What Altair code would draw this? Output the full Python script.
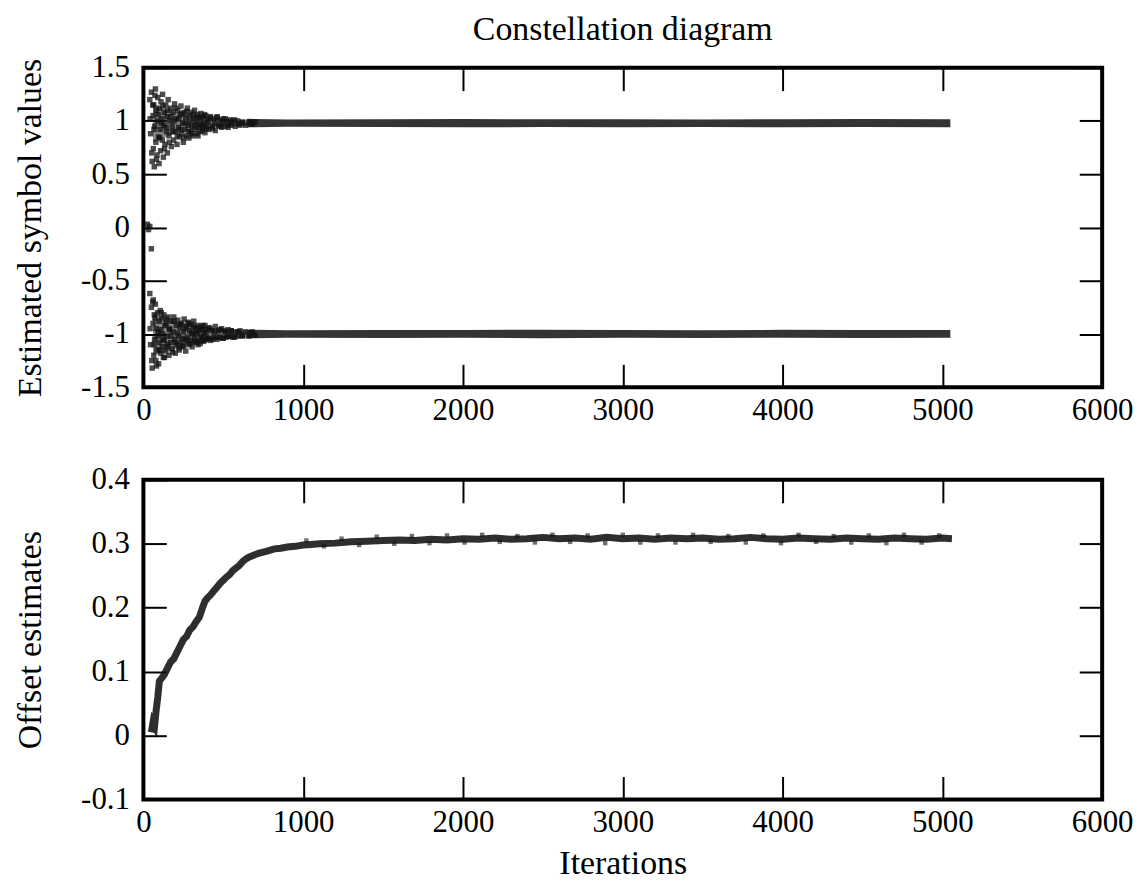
import altair as alt
import pandas as pd

# ---------------- data ----------------
TRANS_X = [40, 45, 50, 55, 60, 62, 65, 68, 70, 75, 78, 80, 85, 88, 90, 95, 98, 100, 105, 108,
           110, 115, 118, 120, 125, 128, 130, 135, 140, 145, 148, 150, 155, 160, 165, 170, 175, 180, 185, 190,
           195, 200, 205, 210, 215, 220, 225, 230, 235, 240, 245, 250, 255, 260, 265, 270, 275, 280, 285, 290,
           295, 300, 305, 310, 315, 320, 325, 330, 335, 340, 345, 350, 355, 360, 365, 370, 375, 380, 385, 390,
           395, 400, 410, 420, 430, 440, 450, 460, 470, 480, 490, 500, 510, 520, 530, 540, 550, 560, 575, 590,
           605, 620, 640, 660, 680, 700]
UPPER_TRANS = [1.20, 0.88, 1.27, 0.62, 1.05, 0.74, 1.15, 0.57, 0.95, 1.30, 0.80, 1.10, 0.68, 1.00, 1.22, 0.85, 0.60, 1.12, 0.92, 0.72,
               1.18, 1.02, 0.82, 1.25, 0.66, 0.96, 1.08, 0.78, 1.15, 0.90, 1.04, 0.70, 1.20, 0.86, 1.00, 1.12, 0.76, 0.95, 1.08, 0.82,
               1.16, 0.90, 1.02, 0.78, 1.10, 0.94, 0.85, 1.06, 1.14, 0.88, 0.98, 0.80, 1.08, 0.92, 1.03, 0.86, 1.12, 0.96, 0.84, 1.05,
               0.90, 1.08, 0.95, 0.86, 1.02, 1.10, 0.92, 0.99, 0.88, 1.06, 0.94, 1.03, 0.90, 1.07, 0.96, 0.91, 1.04, 0.98, 0.89, 1.05,
               0.93, 1.01, 0.92, 1.04, 0.95, 1.02, 0.91, 1.03, 0.96, 1.01, 0.94, 1.02, 0.95, 1.00, 0.94, 1.01, 0.96, 1.00, 0.95, 1.00,
               0.96, 0.99, 0.96, 0.99, 0.97, 0.99]
LOWER_TRANS = [-0.62, -1.10, -0.75, -1.32, -0.90, -0.68, -1.20, -0.82, -1.05, -0.72, -1.25, -0.95, -1.15, -0.80, -1.02, -1.28, -0.88, -1.08, -0.78, -1.18,
               -0.96, -0.85, -1.12, -1.00, -1.22, -0.82, -1.06, -0.92, -1.16, -0.86, -1.02, -1.10, -0.84, -1.20, -0.96, -1.08, -0.88, -1.14, -0.98, -0.84,
               -1.05, -1.18, -0.92, -1.10, -0.87, -1.02, -1.15, -0.94, -1.08, -0.90, -1.12, -0.98, -0.86, -1.05, -1.16, -0.93, -1.03, -0.89, -1.10, -0.97,
               -1.06, -0.91, -1.12, -0.99, -0.88, -1.04, -0.94, -1.08, -1.00, -0.92, -1.06, -0.97, -1.09, -0.93, -1.03, -0.95, -1.07, -0.99, -0.92, -1.05,
               -0.96, -1.04, -0.94, -1.06, -0.97, -1.03, -0.93, -1.05, -0.97, -1.03, -0.95, -1.04, -0.97, -1.03, -0.96, -1.02, -0.97, -1.03, -0.98, -1.02,
               -0.97, -1.02, -0.98, -1.02, -0.98, -1.01]
TRANS_X2 = [42, 52, 58, 66, 72, 82, 92, 102, 112, 122, 132, 142, 152, 162, 172, 182, 192, 202, 212, 222,
            232, 242, 252, 262, 272, 282, 292, 302, 312, 322, 332, 342, 352, 362, 372, 382, 392, 405, 418, 432,
            446, 462, 478, 495, 512, 530, 550, 570, 595, 620]
UPPER_TRANS2 = [1.02, 0.70, 1.15, 0.92, 1.24, 0.64, 1.06, 0.84, 0.98, 1.14, 0.74, 0.94, 1.10, 0.80, 1.04, 0.90, 1.00, 1.12, 0.86, 1.02,
                0.92, 1.07, 0.84, 0.98, 1.09, 0.90, 1.00, 0.88, 1.06, 0.96, 1.04, 0.86, 0.97, 1.02, 0.94, 1.06, 0.95, 0.99, 1.03, 0.93,
                0.98, 1.04, 0.95, 0.99, 1.02, 0.96, 0.98, 1.01, 0.97, 0.98]
LOWER_TRANS2 = [-0.95, -1.25, -0.70, -1.10, -0.85, -1.30, -0.98, -1.15, -0.80, -1.05, -1.22, -0.90, -1.12, -0.95, -1.02, -1.17, -0.88, -1.08, -0.99, -1.13,
                -0.91, -1.04, -1.11, -0.95, -1.06, -0.90, -1.09, -1.00, -0.93, -1.07, -0.98, -1.10, -0.95, -1.03, -0.92, -1.06, -0.99, -1.04, -0.95, -1.05,
                -0.98, -1.03, -0.96, -1.04, -0.98, -1.02, -0.97, -1.03, -0.98, -1.01]
ZERO_X = [25, 32, 40, 50]
ZERO_Y = [0.03, -0.02, 0.01, -0.20]

CORE_X = [60, 120, 200, 300, 400, 500, 600, 700]
UPPER_CORE_LO = [0.80, 0.84, 0.88, 0.91, 0.93, 0.945, 0.95, 0.95]
UPPER_CORE_HI = [1.16, 1.12, 1.08, 1.05, 1.03, 1.015, 1.01, 1.01]
LOWER_CORE_LO = [-1.20, -1.18, -1.14, -1.10, -1.07, -1.05, -1.04, -1.035]
LOWER_CORE_HI = [-0.80, -0.84, -0.88, -0.91, -0.94, -0.955, -0.96, -0.965]

STEADY_X = [650, 900, 1500, 2000, 2500, 3000, 3500, 4000, 4500, 5050]
UPPER_LO = [0.940, 0.945, 0.942, 0.940, 0.943, 0.941, 0.944, 0.940, 0.942, 0.941]
UPPER_HI = [1.020, 1.014, 1.016, 1.018, 1.015, 1.017, 1.014, 1.016, 1.018, 1.016]
LOWER_LO = [-1.040, -1.035, -1.038, -1.036, -1.039, -1.035, -1.037, -1.036, -1.038, -1.036]
LOWER_HI = [-0.960, -0.964, -0.962, -0.963, -0.960, -0.962, -0.964, -0.961, -0.963, -0.962]

OFFSET_X = [50, 60, 70, 80, 90, 100, 115, 130, 150, 170, 190, 210, 230, 250, 270, 290, 310, 330, 350, 370,
            385, 400, 420, 440, 460, 480, 500, 520, 540, 560, 580, 600, 620, 640, 660, 690, 720, 750, 780, 820,
            860, 900, 950, 1000, 1050, 1100, 1200, 1300, 1400, 1500, 1600, 1700, 1800, 1900, 2000, 2100, 2200, 2300, 2400, 2500,
            2600, 2700, 2800, 2900, 3000, 3100, 3200, 3300, 3400, 3500, 3600, 3700, 3800, 3900, 4000, 4100, 4200, 4300, 4400, 4500,
            4600, 4700, 4800, 4900, 5000, 5060]
OFFSET_Y = [0.005, 0.020, 0.015, 0.040, 0.060, 0.085, 0.090, 0.095, 0.105, 0.115, 0.120, 0.130, 0.140, 0.150, 0.155, 0.165, 0.170, 0.178, 0.185, 0.200,
            0.210, 0.215, 0.220, 0.226, 0.232, 0.238, 0.243, 0.248, 0.252, 0.258, 0.262, 0.266, 0.272, 0.276, 0.279, 0.282, 0.285, 0.287, 0.289, 0.292,
            0.293, 0.295, 0.296, 0.298, 0.299, 0.300, 0.301, 0.303, 0.304, 0.305, 0.306, 0.305, 0.307, 0.306, 0.308, 0.307, 0.309, 0.307, 0.308, 0.310,
            0.308, 0.309, 0.307, 0.310, 0.308, 0.309, 0.307, 0.309, 0.308, 0.309, 0.307, 0.308, 0.310, 0.308, 0.307, 0.309, 0.308, 0.307, 0.309, 0.308,
            0.307, 0.309, 0.308, 0.307, 0.309, 0.308]
NOISE_X = [1020, 1130, 1240, 1350, 1460, 1570, 1680, 1790, 1900, 2010, 2120, 2230, 2340, 2450, 2560, 2670, 2780, 2890, 3000, 3110,
           3220, 3330, 3440, 3550, 3660, 3770, 3880, 3990, 4100, 4210, 4320, 4430, 4540, 4650, 4760, 4870, 4980]
NOISE_Y = [0.305, 0.296, 0.308, 0.298, 0.311, 0.300, 0.312, 0.301, 0.313, 0.302, 0.314, 0.303, 0.312, 0.302, 0.314, 0.303, 0.313, 0.301, 0.314, 0.302,
           0.313, 0.302, 0.314, 0.303, 0.312, 0.302, 0.313, 0.301, 0.314, 0.303, 0.312, 0.302, 0.313, 0.301, 0.314, 0.302, 0.313]

X_TICKS = [0, 1000, 2000, 3000, 4000, 5000, 6000]
Y1_TICKS = [-1.5, -1, -0.5, 0, 0.5, 1, 1.5]
Y2_TICKS = [-0.1, 0, 0.1, 0.2, 0.3, 0.4]

# ---------------- layout / style ----------------
W, H = 963, 321
FONT = "Liberation Serif"
INK = "#111111"
LBL = dict(labelFont=FONT, labelFontSize=31, labelColor="black")
TTL = dict(titleFont=FONT, titleFontSize=34, titleFontWeight="normal", titleColor="black")
TICK = dict(tickSize=23, tickWidth=2, tickColor="black")

pts = pd.DataFrame({
    "it": TRANS_X * 2 + TRANS_X2 * 2 + ZERO_X,
    "v": UPPER_TRANS + LOWER_TRANS + UPPER_TRANS2 + LOWER_TRANS2 + ZERO_Y,
})
band = pd.DataFrame({
    "it": STEADY_X * 2,
    "lo": UPPER_LO + LOWER_LO,
    "hi": UPPER_HI + LOWER_HI,
    "grp": ["u"] * len(STEADY_X) + ["l"] * len(STEADY_X),
})
core = pd.DataFrame({
    "it": CORE_X * 2,
    "lo": UPPER_CORE_LO + LOWER_CORE_LO,
    "hi": UPPER_CORE_HI + LOWER_CORE_HI,
    "grp": ["u"] * len(CORE_X) + ["l"] * len(CORE_X),
})
off = pd.DataFrame({"it": OFFSET_X, "v": OFFSET_Y})
noise = pd.DataFrame({"it": NOISE_X, "v": NOISE_Y})

xscale = alt.Scale(domain=[0, 6000], nice=False, zero=False)


def x_label_axis(title):
    return alt.Axis(orient="bottom", values=X_TICKS, ticks=False, domain=False, grid=False,
                    labelPadding=8, labelFlush=False, labelExpr="'' + datum.value",
                    title=title, titlePadding=9, **LBL, **TTL)


def y_label_axis(title, vals):
    return alt.Axis(orient="left", values=vals, ticks=False, domain=False, grid=False,
                    labelPadding=14, labelExpr="'' + datum.value", minExtent=72, maxExtent=72,
                    title=title, titlePadding=24, **LBL, **TTL)


def tick_axis(orient, vals, size):
    return alt.Axis(orient=orient, values=vals, labels=False, domain=False, grid=False,
                    title=None, offset=-size, **TICK)


# ---------- top panel ----------
ys1 = alt.Scale(domain=[-1.5, 1.5], nice=False, zero=False)

top_area = alt.Chart(band).mark_area(color=INK, opacity=0.85).encode(
    x=alt.X("it:Q", scale=xscale, axis=tick_axis("top", X_TICKS, H)),
    y=alt.Y("lo:Q", scale=ys1, axis=tick_axis("right", Y1_TICKS, W)),
    y2="hi:Q",
    detail="grp:N",
)
top_core = alt.Chart(core).mark_area(color=INK, opacity=0.5).encode(
    x=alt.X("it:Q", scale=xscale, axis=None),
    y=alt.Y("lo:Q", scale=ys1, axis=None),
    y2="hi:Q",
    detail="grp:N",
)
top_pts = alt.Chart(pts).mark_square(size=30, color=INK, opacity=0.75).encode(
    x=alt.X("it:Q", scale=xscale, axis=x_label_axis(None)),
    y=alt.Y("v:Q", scale=ys1, axis=y_label_axis("Estimated symbol values", Y1_TICKS)),
)
top_ticks2 = alt.Chart(pts).mark_square(size=18, color=INK, opacity=0).encode(
    x=alt.X("it:Q", scale=xscale, axis=tick_axis("bottom", X_TICKS, H)),
    y=alt.Y("v:Q", scale=ys1, axis=tick_axis("left", Y1_TICKS, W)),
)
top = alt.layer(top_area, top_core, top_pts, top_ticks2).resolve_axis(x="independent", y="independent").properties(
    width=W, height=H,
    title=alt.TitleParams("Constellation diagram", font=FONT, fontSize=34, fontWeight="normal",
                          color="black", anchor="middle", offset=5),
)

# ---------- bottom panel ----------
ys2 = alt.Scale(domain=[-0.1, 0.4], nice=False, zero=False)

bot_line = alt.Chart(off).mark_line(color=INK, strokeWidth=7, opacity=0.88).encode(
    x=alt.X("it:Q", scale=xscale, axis=x_label_axis("Iterations")),
    y=alt.Y("v:Q", scale=ys2, axis=y_label_axis("Offset estimates", Y2_TICKS)),
)
bot_noise = alt.Chart(noise).mark_square(size=20, color=INK, opacity=0.6).encode(
    x=alt.X("it:Q", scale=xscale, axis=None),
    y=alt.Y("v:Q", scale=ys2, axis=None),
)
bot_t1 = alt.Chart(off).mark_point(opacity=0).encode(
    x=alt.X("it:Q", scale=xscale, axis=tick_axis("top", X_TICKS, H)),
    y=alt.Y("v:Q", scale=ys2, axis=tick_axis("right", Y2_TICKS, W)),
)
bot_t2 = alt.Chart(off).mark_point(opacity=0).encode(
    x=alt.X("it:Q", scale=xscale, axis=tick_axis("bottom", X_TICKS, H)),
    y=alt.Y("v:Q", scale=ys2, axis=tick_axis("left", Y2_TICKS, W)),
)
bottom = alt.layer(bot_line, bot_noise, bot_t1, bot_t2).resolve_axis(x="independent", y="independent").properties(
    width=W, height=H)

chart = alt.vconcat(top, bottom, spacing=35).properties(
    padding={"left": 4, "top": 1, "right": 2, "bottom": 0},
    background="white",
).configure_view(stroke="black", strokeWidth=4)

chart.save("out.html", embed_options={"renderer": "svg", "actions": False})
